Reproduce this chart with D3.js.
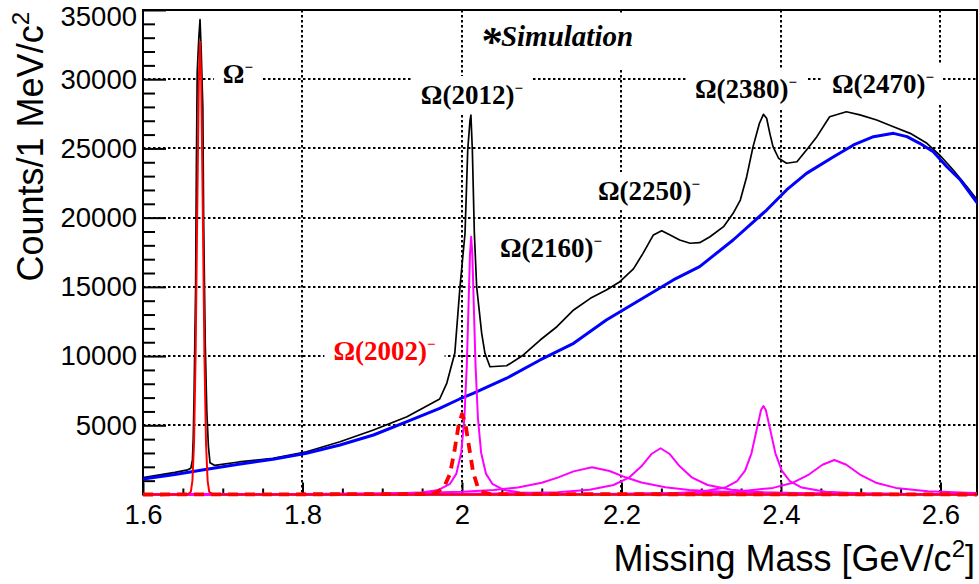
<!DOCTYPE html>
<html>
<head>
<meta charset="utf-8">
<script src="https://cdn.jsdelivr.net/npm/d3@7"></script>
<style>
  body { margin: 0; background: #fff; }
  svg { display: block; }
</style>
</head>
<body>
<div id="chart"></div>
<script>
// values: mass in GeV/c^2, counts per 1 MeV/c^2

// black: total simulated spectrum
const totalMass = [1.600, 1.640, 1.656, 1.660, 1.662, 1.663, 1.664, 1.666, 1.667, 1.668, 1.670, 1.6715,
  1.673, 1.675, 1.676, 1.678, 1.680, 1.682, 1.684, 1.690, 1.720, 1.763, 1.805, 1.847, 1.889, 1.931,
  1.972, 1.981, 1.991, 1.9975, 2.0038, 2.0072, 2.0100, 2.0112, 2.0130, 2.0155, 2.0184, 2.0247, 2.0288,
  2.0351, 2.056, 2.077, 2.098, 2.119, 2.140, 2.161, 2.181, 2.198, 2.215, 2.227, 2.240, 2.2504, 2.261,
  2.273, 2.286, 2.298, 2.311, 2.328, 2.340, 2.349, 2.357, 2.365, 2.373, 2.378, 2.382, 2.386, 2.390,
  2.397, 2.407, 2.420, 2.432, 2.445, 2.461, 2.482, 2.499, 2.520, 2.541, 2.562, 2.583, 2.599, 2.616,
  2.633, 2.648];
const totalCounts = [1214, 1600, 1780, 1900, 2500, 4000, 7000, 15000, 24000, 30500, 33000, 34300,
  32000, 28000, 20000, 11000, 6000, 3500, 2300, 2100, 2350, 2615, 3090, 3815, 4660, 5620,
  6900, 8050, 10220, 15010, 18870, 24890, 27000, 27400, 24890, 18870, 15010, 11640, 10200,
  9230, 9300, 10080, 11160, 12120, 13330, 14170, 14770, 15370, 16300, 17420, 18750, 19060, 18750,
  18385, 18150, 18190, 18620, 19350, 20310, 21270, 22960, 25130, 26820, 27460, 27180, 26090, 25130,
  24290, 23930, 24040, 24890, 25850, 27290, 27650, 27420, 27050, 26570, 26090, 25370, 24525, 23440,
  22240, 21150];

// blue: background
const bgMass = [1.600, 1.640, 1.680, 1.720, 1.763, 1.805, 1.847, 1.889, 1.931, 1.972, 1.997, 2.014,
  2.056, 2.098, 2.140, 2.181, 2.223, 2.265, 2.298, 2.340, 2.382, 2.407, 2.432, 2.466, 2.491, 2.516,
  2.541, 2.558, 2.574, 2.591, 2.608, 2.625, 2.648];
const bgCounts = [1120, 1450, 1820, 2180, 2540, 2976, 3576, 4298, 5260, 6227, 6900, 7310,
  8400, 9720, 10920, 12600, 14050, 15500, 16460, 18385, 20550, 22000, 23200, 24400, 25250, 25850,
  26090, 25850, 25370, 24760, 23680, 22720, 20910];

// red solid: Omega- peak
const omegaMass = [1.600, 1.656, 1.660, 1.662, 1.664, 1.666, 1.668, 1.670, 1.6715, 1.673, 1.675,
  1.677, 1.679, 1.681, 1.683, 1.687, 2.650];
const omegaCounts = [0, 0, 200, 1010, 3730, 10150, 20430, 30000, 32700, 30000, 20430,
  10150, 3730, 1010, 200, 0, 0];

// red dashed: Omega(2002)-
const o2002Mass = [1.600, 1.960, 1.970, 1.978, 1.985, 1.991, 1.996, 2.000, 2.004, 2.009, 2.014,
  2.020, 2.027, 2.035, 2.650];
const o2002Counts = [0, 30, 200, 600, 1500, 3300, 5100, 5800, 5200, 3400, 1600, 500, 150, 30, 0];

// magenta: excited states
const o2012Mass = [1.600, 1.800, 1.900, 1.950, 1.970, 1.985, 1.993, 1.999, 2.003, 2.006, 2.008, 2.010,
  2.0115, 2.013, 2.015, 2.017, 2.020, 2.024, 2.030, 2.038, 2.053, 2.073, 2.123, 2.223, 2.423, 2.650];
const o2012Counts = [3, 13, 45, 148, 321, 770, 1510, 3020, 5490, 9310, 13250, 17330,
  18620, 17330, 13250, 9310, 5490, 3020, 1510, 770, 321, 148, 45, 13, 3, 1];

const o2160Mass = [1.600, 1.800, 1.900, 1.950, 2.000, 2.040, 2.070, 2.100, 2.120, 2.140, 2.163, 2.185,
  2.205, 2.225, 2.255, 2.285, 2.335, 2.400, 2.500, 2.650];
const o2160Counts = [19, 44, 82, 123, 201, 327, 509, 850, 1220, 1672, 1965, 1694,
  1241, 866, 517, 332, 182, 100, 51, 25];

const o2250Mass = [1.600, 1.800, 1.950, 2.050, 2.120, 2.160, 2.190, 2.210, 2.225, 2.238, 2.249, 2.260,
  2.273, 2.288, 2.308, 2.338, 2.378, 2.448, 2.548, 2.650];
const o2250Counts = [7, 15, 33, 74, 171, 341, 686, 1242, 2037, 2945, 3340, 2945,
  2037, 1242, 686, 341, 171, 74, 33, 19];

const o2380Mass = [1.600, 1.900, 2.100, 2.200, 2.260, 2.300, 2.330, 2.345, 2.355, 2.363, 2.370, 2.375,
  2.378, 2.381, 2.386, 2.393, 2.401, 2.411, 2.426, 2.456, 2.496, 2.556, 2.650];
const o2380Counts = [2, 6, 16, 39, 89, 200, 501, 974, 1727, 2975, 4815, 6110,
  6390, 6110, 4815, 2975, 1727, 974, 501, 200, 89, 39, 17];

const o2470Mass = [1.600, 1.900, 2.100, 2.200, 2.300, 2.350, 2.390, 2.415, 2.435, 2.452, 2.467, 2.482,
  2.499, 2.519, 2.544, 2.584, 2.634, 2.650];
const o2470Counts = [5, 11, 26, 48, 120, 232, 477, 853, 1441, 2147, 2490, 2147,
  1441, 853, 477, 232, 120, 100];

// axis ticks
const xTickValues = [1.6, 1.8, 2.0, 2.2, 2.4, 2.6];
const xTickLabels = ["1.6", "1.8", "2", "2.2", "2.4", "2.6"];
const yTickValues = [5000, 10000, 15000, 20000, 25000, 30000, 35000];
const yTickLabels = ["5000", "10000", "15000", "20000", "25000", "30000", "35000"];

// peak labels
const peakNames = ["Ω", "Ω(2012)", "Ω(2160)", "Ω(2250)", "Ω(2380)", "Ω(2470)", "Ω(2002)"];
const peakColors = ["#000", "#000", "#000", "#000", "#000", "#000", "#ff0000"];
// where each label sits, in data units (centre, baseline)
const peakLabelAt = [[1.719, 29730], [2.0125, 28210], [2.1116, 17160], [2.2345, 21270],
  [2.3561, 28640], [2.5279, 29000], [1.9028, 9716]];

drawChart();

function drawChart() {
    const width = 979;
    const height = 584;
    const plot = { left: 143, right: 977, top: 10, bottom: 494.5 };

    const svg = d3.select('#chart')
        .append('svg')
        .attr('width', width)
        .attr('height', height);

    const x = d3.scaleLinear()
        .domain([1.6, 2.6458])
        .range([plot.left, plot.right]);

    const y = d3.scaleLinear()
        .domain([0, 35000])
        .range([plot.bottom, plot.top]);

    svg.append('clipPath')
        .attr('id', 'plot-clip')
        .append('rect')
        .attr('x', plot.left)
        .attr('y', 0)
        .attr('width', plot.right - plot.left)
        .attr('height', plot.bottom + 4);

    // dotted grid
    const grid = svg.append('g')
        .attr('stroke', '#000')
        .attr('stroke-width', 2)
        .attr('stroke-dasharray', '2.5,2.5');

    grid.selectAll('.hgrid')
        .data(yTickValues.slice(0, -1))
        .enter()
        .append('line')
        .attr('x1', plot.left)
        .attr('x2', plot.right)
        .attr('y1', d => Math.round(y(d)))
        .attr('y2', d => Math.round(y(d)));

    grid.selectAll('.vgrid')
        .data(xTickValues.slice(1))
        .enter()
        .append('line')
        .attr('x1', d => Math.round(x(d)))
        .attr('x2', d => Math.round(x(d)))
        .attr('y1', plot.top)
        .attr('y2', plot.bottom);

    // white boxes hide the grid behind the labels
    const boxLayer = svg.append('g');

    // axes, ticks pointing inside
    const yAxis = d3.axisLeft(y)
        .tickValues(yTickValues)
        .tickFormat((d, i) => yTickLabels[i])
        .tickSize(-23)
        .tickPadding(6);

    const yMinor = d3.axisLeft(y)
        .tickValues(d3.range(1000, 35000, 1000).filter(v => v % 5000 !== 0))
        .tickFormat('')
        .tickSize(-12);

    const xAxis = d3.axisBottom(x)
        .tickValues(xTickValues)
        .tickFormat((d, i) => xTickLabels[i])
        .tickSize(-12)
        .tickPadding(10);

    const xMinor = d3.axisBottom(x)
        .tickValues(d3.range(1.65, 2.64, 0.05).filter((v, i) => (i + 1) % 4 !== 0))
        .tickFormat('')
        .tickSize(-6);

    function styleAxis(g) {
        g.select('.domain').remove();
        g.selectAll('line').attr('stroke', '#000').attr('stroke-width', 2);
        g.selectAll('text')
            .attr('fill', '#000')
            .style('font-family', '"Liberation Sans", Arial, sans-serif')
            .style('font-size', '27.5px');
    }

    const yAxisG = svg.append('g').attr('transform', `translate(${plot.left},0)`).call(yAxis).call(styleAxis);
    // keep the top label inside the picture
    yAxisG.selectAll('text').filter(d => d === 35000).attr('dy', '0.56em');
    svg.append('g').attr('transform', `translate(${plot.left},0)`).call(yMinor).call(styleAxis);
    svg.append('g').attr('transform', `translate(0,${plot.bottom})`).call(xAxis).call(styleAxis);
    svg.append('g').attr('transform', `translate(0,${plot.bottom})`).call(xMinor).call(styleAxis);

    // frame
    svg.append('rect')
        .attr('x', plot.left)
        .attr('y', plot.top)
        .attr('width', plot.right - plot.left)
        .attr('height', plot.bottom - plot.top)
        .attr('fill', 'none')
        .attr('stroke', '#000')
        .attr('stroke-width', 2);

    // curves go over the axes, like ROOT's "same" draws
    const curveLayer = svg.append('g').attr('clip-path', 'url(#plot-clip)');
    const textLayer = svg.append('g');

    const line = d3.line()
        .x(d => x(d[0]))
        .y(d => y(d[1]));

    function drawCurve(mass, counts, color, w, dash) {
        const pts = mass.map((m, i) => [m, counts[i]]);
        curveLayer.append('path')
            .datum(pts)
            .attr('d', line)
            .attr('fill', 'none')
            .attr('stroke', color)
            .attr('stroke-width', w)
            .attr('stroke-linejoin', 'round')
            .attr('stroke-dasharray', dash || null);
    }

    drawCurve(totalMass, totalCounts, '#000', 1.7);
    drawCurve(bgMass, bgCounts, '#0000ff', 3);
    drawCurve(o2012Mass, o2012Counts, '#ff00ff', 2);
    drawCurve(o2160Mass, o2160Counts, '#ff00ff', 2);
    drawCurve(o2250Mass, o2250Counts, '#ff00ff', 2);
    drawCurve(o2380Mass, o2380Counts, '#ff00ff', 2);
    drawCurve(o2470Mass, o2470Counts, '#ff00ff', 2);
    drawCurve(omegaMass, omegaCounts, '#ff0000', 2);
    drawCurve(o2002Mass, o2002Counts, '#ff0000', 3.8, '10,7');

    // axis titles
    const xTitle = svg.append('text')
        .attr('x', 975)
        .attr('y', 571)
        .attr('text-anchor', 'end')
        .style('font-family', '"Liberation Sans", Arial, sans-serif')
        .style('font-size', '36px');
    xTitle.append('tspan').text('Missing Mass [GeV/c');
    xTitle.append('tspan').text('2').attr('dy', -14).style('font-size', '24px');
    xTitle.append('tspan').text(']').attr('dy', 14);

    const yTitle = svg.append('text')
        .attr('transform', 'translate(43,12) rotate(-90)')
        .attr('text-anchor', 'end')
        .style('font-family', '"Liberation Sans", Arial, sans-serif')
        .style('font-size', '36px');
    yTitle.append('tspan').text('Counts/1 MeV/c');
    yTitle.append('tspan').text('2').attr('dy', -14).style('font-size', '24px');

    // peak labels
    peakNames.forEach((name, i) => {
        const t = textLayer.append('text')
            .attr('x', x(peakLabelAt[i][0]))
            .attr('y', y(peakLabelAt[i][1]))
            .attr('text-anchor', 'middle')
            .attr('fill', peakColors[i])
            .style('font-family', '"Liberation Serif", "Times New Roman", serif')
            .style('font-weight', 'bold')
            .style('font-size', '27px');
        t.append('tspan').text(name);
        t.append('tspan').text('\u2212').attr('dy', -11).style('font-size', '15px');
        addBox(t);
    });

    const sim = textLayer.append('text')
        .attr('x', x(2.1185))
        .attr('y', y(32400))
        .attr('text-anchor', 'middle')
        .style('font-family', '"Liberation Serif", "Times New Roman", serif')
        .style('font-weight', 'bold')
        .style('font-style', 'italic')
        .style('font-size', '29px');
    sim.append('tspan').text('*').attr('dy', 10).style('font-size', '42px');
    sim.append('tspan').text('Simulation').attr('dy', -10);
    addBox(sim);

    function addBox(t) {
        const b = t.node().getBBox();
        boxLayer.append('rect')
            .attr('x', b.x - 9)
            .attr('y', b.y - 4)
            .attr('width', b.width + 18)
            .attr('height', b.height + 8)
            .attr('fill', '#fff');
    }
}
</script>
</body>
</html>
